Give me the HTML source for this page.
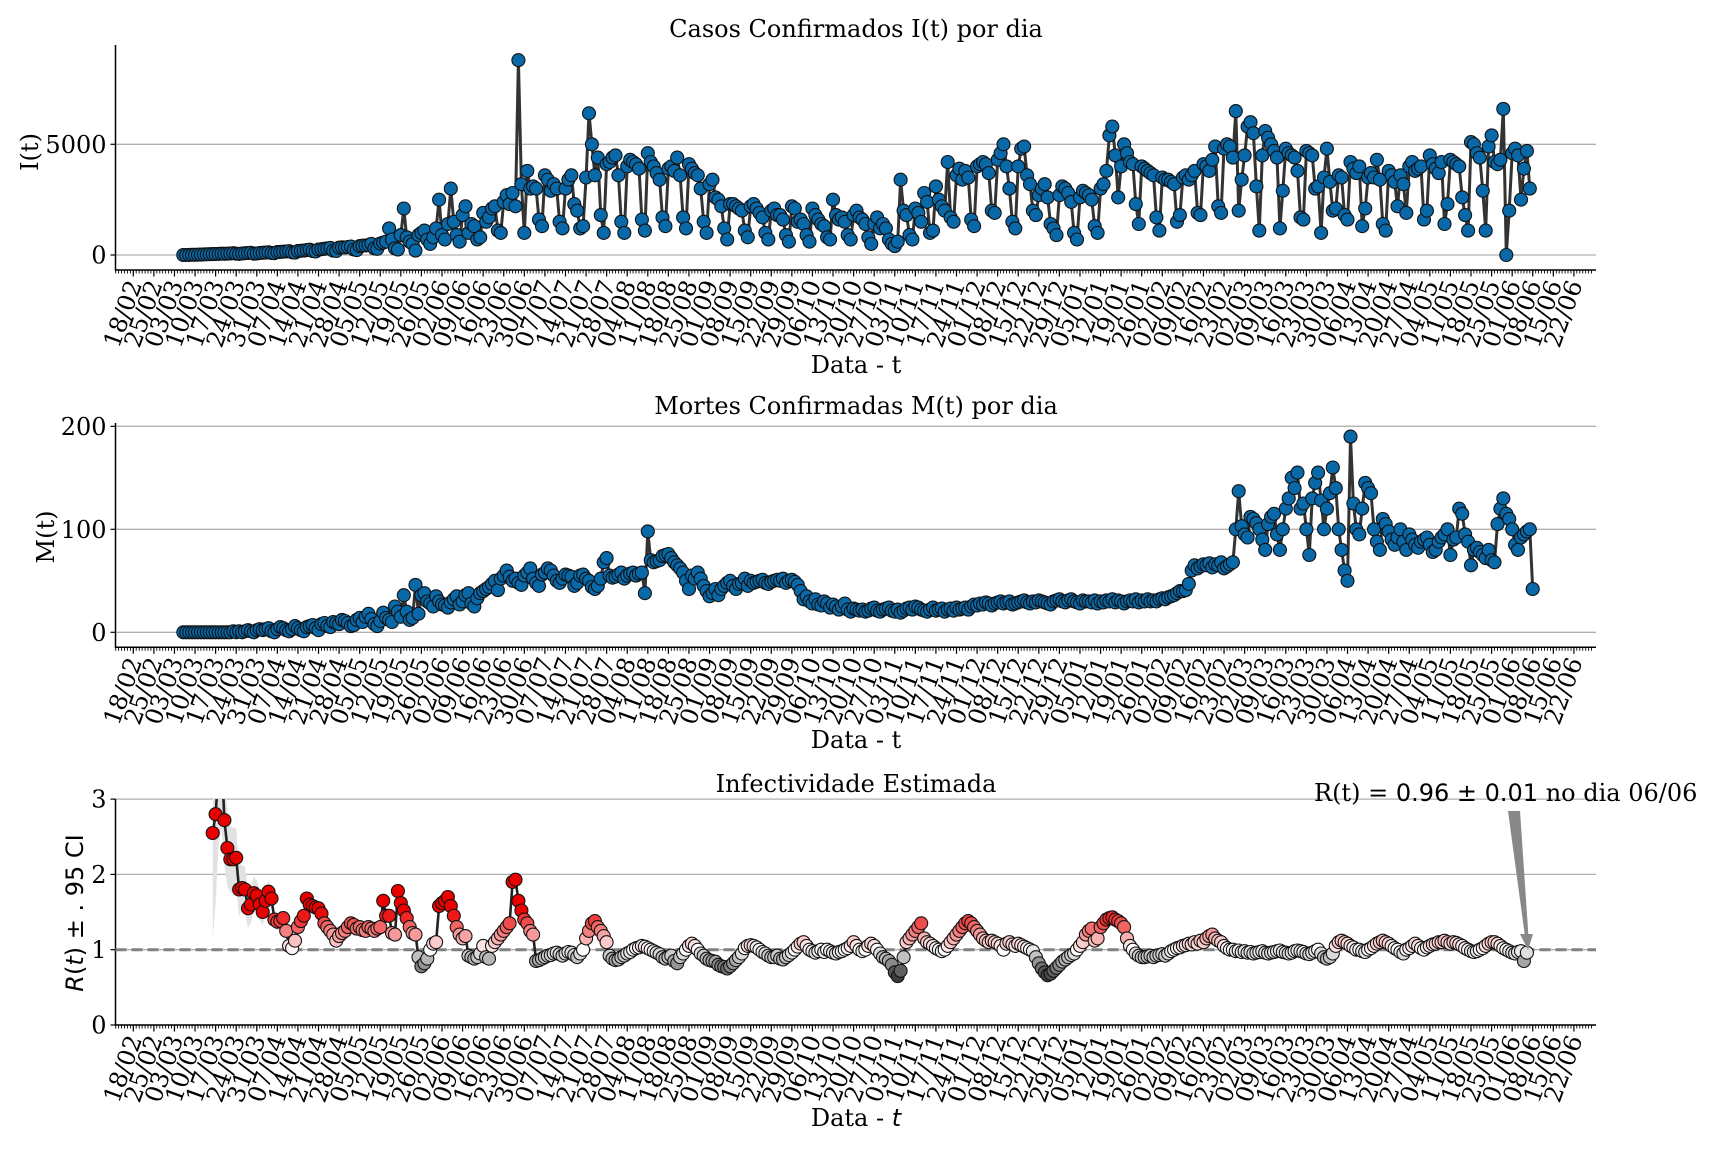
<!DOCTYPE html>
<html><head><meta charset="utf-8"><title>COVID charts</title>
<style>
html,body{margin:0;padding:0;background:#fff;}
svg{display:block;}
text{font-family:"DejaVu Serif","Liberation Serif",serif;fill:#000;}
.sans{font-family:"DejaVu Sans","Liberation Sans",sans-serif;}
</style></head>
<body>
<svg id="chart" width="1728" height="1152" viewBox="0 0 1728 1152" xmlns="http://www.w3.org/2000/svg">
<defs>
<clipPath id="clip3"><rect x="115.5" y="799" width="1481" height="226"/></clipPath>
</defs>
<rect x="0" y="0" width="1728" height="1152" fill="#fff"/>
<text x="856" y="37" font-size="24" text-anchor="middle">Casos Confirmados I(t) por dia</text>
<text x="856" y="414" font-size="24" text-anchor="middle">Mortes Confirmadas M(t) por dia</text>
<text x="856" y="792" font-size="24" text-anchor="middle">Infectividade Estimada</text>
<text x="856" y="373" font-size="24" text-anchor="middle">Data - t</text>
<text x="856" y="748" font-size="24" text-anchor="middle">Data - t</text>
<text x="856" y="1126" font-size="24" text-anchor="middle">Data - <tspan font-style="italic" class="sans">t</tspan></text>
<text transform="translate(38,152) rotate(-90)" font-size="24" text-anchor="middle">I(t)</text>
<text transform="translate(54,537) rotate(-90)" font-size="24" text-anchor="middle">M(t)</text>
<text transform="translate(83,913) rotate(-90)" font-size="24" text-anchor="middle" class="sans"><tspan font-style="italic">R</tspan>(<tspan font-style="italic">t</tspan>) ± . 95 CI</text>
<g id="layer"></g>
<text x="1314" y="801" font-size="24">R(t) = <tspan class="sans">0.96 ± 0.01</tspan> no dia 06/06</text>
<polygon points="1508,811 1520,811 1529,944 1526,944" fill="#888"/>
<polygon points="1520,934 1528,950 1533,934" fill="#888"/>
</svg>
<script>
const tickLabels=["18/02","25/02","03/03","10/03","17/03","24/03","31/03","07/04","14/04","21/04","28/04","05/05","12/05","19/05","26/05","02/06","09/06","16/06","23/06","30/06","07/07","14/07","21/07","28/07","04/08","11/08","18/08","25/08","01/09","08/09","15/09","22/09","29/09","06/10","13/10","20/10","27/10","03/11","10/11","17/11","24/11","01/12","08/12","15/12","22/12","29/12","05/01","12/01","19/01","26/01","02/02","09/02","16/02","23/02","02/03","09/03","16/03","23/03","30/03","06/04","13/04","20/04","27/04","04/05","11/05","18/05","25/05","01/06","08/06","15/06","22/06"];
const casesStart=17;
const cases=[1,2,5,8,10,15,20,25,30,35,40,45,50,60,55,60,70,80,60,50,70,80,90,100,60,70,90,100,110,120,90,80,130,140,150,160,170,120,110,180,190,200,220,240,180,160,250,260,280,300,320,200,180,330,350,340,360,380,250,220,400,420,430,450,500,300,280,520,560,600,
1200,700,300,250,900,2100,800,600,500,200,900,1000,1100,700,500,800,1200,2500,900,700,1400,3000,1500,900,600,1800,2200,1000,1400,1300,700,800,1900,1500,1700,2100,2200,1100,1000,2400,2700,2300,2800,2200,8800,3200,1000,3800,3000,
3100,3000,1600,1300,3600,3400,2900,3200,3000,1500,1200,3000,3400,3600,2300,2000,1200,1300,3500,6400,5000,3600,4400,1800,1000,4100,4200,4400,4500,3600,1500,1000,4000,4300,4200,4100,3900,1600,1100,4600,4200,4000,3700,3400,1700,1300,3900,4000,3800,4400,3600,1700,1200,4100,3900,3700,3600,3000,1500,1000,3200,3400,2600,
2500,2200,1200,700,2300,2300,2200,2100,2000,1100,800,2200,2300,2100,1900,1700,1000,700,2000,2100,1800,1800,1600,900,600,2200,2100,1500,1600,1400,900,600,2100,1800,1600,1400,1300,800,700,2500,1800,1600,1700,1500,900,700,1800,2000,1700,1600,1400,800,500,1400,1700,1200,1400,1200,700,500,400,600,3400,
2000,1800,900,700,2100,1900,1500,2800,2400,1000,1100,3100,2500,2200,2000,4200,1700,1500,3600,3900,3400,3800,3500,1600,1300,4000,4100,4200,4100,3700,2000,1900,4300,4600,5000,4000,3000,1500,1200,4000,4800,4900,3600,3200,2000,1800,2700,3000,3200,2600,1400,1200,900,2700,3100,3000,2800,2400,1000,700,2600,2900,2800,2700,2500,1300,1000,3000,3200,3800,
5400,5800,4500,2600,4000,5000,4600,4200,4100,2300,1400,4000,3900,3800,3700,3600,1700,1100,3500,3400,3400,3300,3200,1500,1800,3500,3600,3400,3600,3800,1900,1800,4100,4000,3800,4300,4900,2200,1900,4800,5000,4900,4400,6500,2000,3400,4500,5800,6000,5500,3100,1100,4500,5600,5300,5000,4700,4400,1200,2900,4800,4600,4500,4400,3800,1700,1600,4700,4600,4500,
3000,3100,1000,3500,4800,3300,2000,2100,3600,3500,1800,1600,4200,3900,3700,4000,1300,2100,3500,3700,3500,4300,3400,1400,1100,3800,3600,3300,2200,3600,3200,1900,4000,4200,3800,3900,4000,1600,2000,4500,4100,3900,3700,4200,1400,2300,4300,4200,4100,4000,2600,1800,1100,5100,5000,4600,4400,2900,1100,4900,5400,4200,4100,4300,6600,0,2000,4600,4800,4500,2500,3900,4700,3000];
const deathsStart=17;
const deaths=[0,0,0,0,0,0,0,0,0,0,0,0,0,0,0,0,0,1,0,1,0,1,2,1,0,2,3,2,3,4,1,0,3,5,4,2,1,3,6,4,2,1,5,6,7,4,2,8,9,6,5,10,9,8,12,11,9,6,7,12,14,10,15,18,13,8,6,11,19,14,
12,10,25,20,15,36,20,12,14,46,18,36,38,30,28,25,35,30,27,26,24,29,32,35,27,30,36,38,28,25,33,38,40,42,44,47,50,41,52,55,60,54,50,52,48,46,55,58,62,
52,48,45,56,58,62,60,55,50,48,52,56,55,54,45,48,55,56,52,50,44,42,45,52,68,72,55,53,54,56,58,52,55,57,58,55,57,58,38,98,70,68,69,70,74,75,76,72,68,65,62,58,50,42,55,52,
58,52,45,40,35,38,42,36,42,45,48,50,45,42,47,48,52,45,50,48,49,50,51,48,47,49,50,51,50,52,48,50,51,49,46,40,32,35,30,28,32,27,26,30,28,24,27,25,22,25,28,22,20,23,22,21,
22,20,21,23,24,21,20,22,23,24,21,20,22,19,21,23,24,22,25,24,22,21,20,22,24,21,22,23,20,22,23,21,24,22,23,24,22,25,27,26,28,27,29,28,26,28,29,30,28,
29,30,27,28,29,30,31,29,28,30,29,31,30,29,28,27,30,31,32,30,29,31,32,30,29,28,31,30,30,29,31,28,30,29,31,30,32,29,31,30,28,30,31,30,32,29,31,30,32,
30,31,30,32,33,32,34,35,36,38,40,40,41,47,60,65,62,64,66,65,67,63,66,65,68,62,64,66,68,100,137,103,95,92,112,110,106,100,90,80,105,112,115,95,80,100,120,130,150,
140,155,120,125,100,75,130,145,155,128,100,120,135,160,140,100,80,60,50,190,125,100,95,120,145,140,135,100,88,80,110,105,98,90,85,92,100,88,80,95,90,85,
82,88,90,92,85,78,80,88,92,95,100,75,90,92,120,115,95,88,65,80,82,78,75,72,80,70,68,105,120,130,115,110,100,85,80,92,95,98,100,42];
const rStart=27;
const rValues=[2.55,2.8,3.4,3.6,2.72,2.35,2.2,2.2,2.22,1.8,
1.82,1.8,1.55,1.6,1.75,1.72,1.6,1.5,1.65,1.77,
1.68,1.4,1.37,1.38,1.42,1.25,1.05,1.02,1.12,1.3,
1.38,1.45,1.68,1.6,1.58,1.56,1.55,1.48,1.35,1.3,
1.25,1.2,1.12,1.18,1.22,1.25,1.3,1.35,1.33,1.28,
1.3,1.26,1.25,1.3,1.28,1.25,1.28,1.3,1.65,1.45,
1.45,1.22,1.2,1.78,1.62,1.52,1.42,1.3,1.22,1.2,
0.9,0.78,0.82,0.88,1.0,1.08,1.1,1.58,1.62,1.65,
1.7,1.58,1.45,1.3,1.2,1.15,1.18,0.92,0.9,0.88,
0.9,0.95,1.05,0.9,0.88,1.05,1.1,1.15,1.2,1.25,
1.3,1.35,1.9,1.93,1.65,1.52,1.4,1.35,1.25,1.2,
0.85,0.86,0.88,0.9,0.92,0.93,0.95,0.96,0.94,0.92,
0.95,0.97,0.96,0.93,0.9,0.95,1.0,1.15,1.25,1.35,
1.38,1.3,1.25,1.18,1.1,0.92,0.88,0.86,0.87,0.9,
0.92,0.95,0.97,1.0,1.02,1.03,1.05,1.04,1.02,1.0,
0.98,0.96,0.94,0.9,0.88,0.9,0.92,0.85,0.82,0.9,
0.95,1.0,1.05,1.08,1.05,1.0,0.95,0.92,0.88,0.86,
0.85,0.84,0.8,0.78,0.77,0.75,0.78,0.82,0.86,0.9,
0.95,1.02,1.05,1.06,1.05,1.03,1.0,0.97,0.95,0.92,
0.9,0.9,0.92,0.88,0.87,0.9,0.93,0.96,1.0,1.04,
1.08,1.1,1.05,1.0,0.98,0.96,0.98,1.0,0.97,1.0,
0.98,0.96,0.95,0.97,0.98,1.0,1.02,1.05,1.1,1.05,
1.0,0.98,1.0,1.05,1.08,1.05,1.0,0.95,0.9,0.88,
0.85,0.8,0.7,0.65,0.72,0.9,1.1,1.15,1.2,1.25,
1.3,1.35,1.15,1.1,1.08,1.05,1.02,1.0,0.98,1.0,
1.05,1.1,1.15,1.2,1.25,1.3,1.35,1.38,1.35,1.3,
1.25,1.2,1.15,1.12,1.1,1.12,1.1,1.08,1.05,1.0,
1.08,1.1,1.07,1.05,1.08,1.06,1.04,1.02,1.0,0.98,
0.9,0.82,0.75,0.7,0.66,0.68,0.72,0.76,0.8,0.84,
0.87,0.9,0.93,0.95,1.0,1.05,1.1,1.2,1.25,1.28,
1.12,1.15,1.3,1.35,1.4,1.42,1.43,1.4,1.38,1.35,
1.3,1.15,1.05,1.0,0.95,0.92,0.9,0.9,0.91,0.92,
0.9,0.92,0.93,0.94,0.92,0.95,0.98,1.0,1.02,1.03,
1.05,1.06,1.08,1.07,1.1,1.08,1.12,1.1,1.15,1.18,
1.2,1.15,1.12,1.1,1.05,1.02,1.0,1.0,0.98,0.99,
0.97,0.98,0.96,0.97,0.95,0.96,0.97,0.98,0.96,0.95,
0.96,0.97,0.98,0.99,0.97,0.96,0.95,0.96,0.98,0.99,
0.98,0.97,0.95,0.94,0.96,0.98,1.0,0.95,0.9,0.88,
0.9,0.95,1.05,1.1,1.12,1.1,1.08,1.05,1.03,1.0,
1.0,0.98,0.97,1.0,1.02,1.05,1.08,1.1,1.12,1.1,
1.08,1.05,1.02,1.0,0.97,0.95,1.0,1.02,1.05,1.08,
1.05,1.02,1.0,1.03,1.05,1.07,1.08,1.1,1.1,1.12,
1.1,1.08,1.1,1.09,1.07,1.05,1.02,1.0,0.98,0.97,
0.98,1.0,1.02,1.05,1.08,1.1,1.1,1.08,1.05,1.02,
1.0,0.98,0.96,0.95,0.97,0.98,0.85,0.96];
const rCiHalf=[1.4,1.2,1.0,1.0,0.6,0.5,0.45,0.42,0.4,0.35,0.3,0.3,0.26,0.25,0.22,0.2,0.2,0.18,0.16,0.15,0.13,0.12,0.11,0.1,0.1,0.09,0.08,0.08,0.07,0.07];

const NS="http://www.w3.org/2000/svg";
const layer=document.getElementById('layer');
const X0=115.5, X1=1596;
function xDay(d){return 133.3+2.94*d;}
const panels=[
 {name:'cases',axisY:270,top:45,y:v=>255-v*110.7/5000,ticks:[0,5000],labels:['0','5000']},
 {name:'deaths',axisY:647.3,top:423,y:v=>632.3-v*1.03,ticks:[0,100,200],labels:['0','100','200']},
 {name:'r',axisY:1025,top:799,y:v=>1025-v*75.3,ticks:[0,1,2,3],labels:['0','1','2','3']}
];
function mk(tag,attrs,parent){const e=document.createElementNS(NS,tag);for(const k in attrs)e.setAttribute(k,attrs[k]);(parent||layer).appendChild(e);return e;}

panels.forEach(p=>{
  const g=mk('g',{});
  
  
  p.ticks.forEach((t,i)=>{
    const yy=p.y(t);
    const gl=mk('line',{x1:X0,x2:X1,y1:yy,y2:yy,stroke:'#b0b0b0','stroke-width':1.3},g);
    
    
    mk('line',{x1:X0-5,x2:X0,y1:yy,y2:yy,stroke:'#000','stroke-width':1.2},g);
    const tl=mk('text',{x:X0-9,y:yy+8.5,'font-size':24,'text-anchor':'end'},g);
    tl.textContent=p.labels[i];
    
    
  });
  let dpath='';
  for(let d=-6;d<=496;d++){const xx=xDay(d);if(xx<X0||xx>X1)continue;dpath+=`M${xx.toFixed(1)},${p.axisY}v3.5`;}
  mk('path',{d:dpath,stroke:'#000','stroke-width':0.9,fill:'none'},g);
  tickLabels.forEach((lab,i)=>{
    const xx=xDay(i*7);
    mk('line',{x1:xx,x2:xx,y1:p.axisY,y2:p.axisY+6.5,stroke:'#000','stroke-width':1.2},g);
    const t=mk('text',{transform:`translate(${(xx+9).toFixed(1)},${p.axisY+14}) rotate(-70)`,'font-size':24,'text-anchor':'end'},g);
    t.textContent=lab;
    
    
  });
  const sp=mk('path',{d:`M${X0},${p.top}V${p.axisY}H${X1}`,stroke:'#000','stroke-width':1.5,fill:'none'},g);
  
  
});

function drawSeries(p,start,vals,name){
  const pts=vals.map((v,i)=>[xDay(start+i),p.y(v)]);
  const ln=mk('polyline',{points:pts.map(q=>q[0].toFixed(1)+','+q[1].toFixed(1)).join(' '),fill:'none',stroke:'#333','stroke-width':3,'stroke-linejoin':'round'});
  
  
  pts.forEach((q,i)=>{
    const c=mk('circle',{cx:q[0].toFixed(1),cy:q[1].toFixed(1),r:6.5,fill:'#0868a8',stroke:'#111','stroke-width':1.1});
    
    
  });
}
drawSeries(panels[0],casesStart,cases,'cases');
drawSeries(panels[1],deathsStart,deaths,'deaths');

(function(){
  const p=panels[2];
  const cg=mk('g',{'clip-path':'url(#clip3)'});
  
  
  const up=[],lo=[];
  rValues.forEach((v,i)=>{const h=i<rCiHalf.length?rCiHalf[i]:0.04;up.push([xDay(rStart+i),p.y(v+h)]);lo.push([xDay(rStart+i),p.y(Math.max(0,v-h))]);});
  const band=mk('polygon',{points:up.concat(lo.reverse()).map(q=>q[0].toFixed(1)+','+q[1].toFixed(1)).join(' '),fill:'#e2e2e2',stroke:'none'},cg);
  
  
  const dl=mk('line',{x1:X0,x2:X1,y1:p.y(1),y2:p.y(1),stroke:'#808080','stroke-width':3,'stroke-dasharray':'11,5'},cg);
  
  
  const pts=rValues.map((v,i)=>[xDay(rStart+i),p.y(v)]);
  const ln=mk('polyline',{points:pts.map(q=>q[0].toFixed(1)+','+q[1].toFixed(1)).join(' '),fill:'none',stroke:'#222','stroke-width':2.6},cg);
  
  
  function col(v){
    let r,g,b;
    if(v>=1){const t=Math.min((v-1)/0.5,1);r=255-20*t;g=255-255*t;b=255-255*t;}
    else{const t=Math.min((1-v)/0.35,1);r=g=b=245-185*t;}
    return `rgb(${r|0},${g|0},${b|0})`;
  }
  pts.forEach((q,i)=>{
    const c=mk('circle',{cx:q[0].toFixed(1),cy:q[1].toFixed(1),r:6.5,fill:col(rValues[i]),stroke:'#111','stroke-width':1.1},cg);
    
    
  });
})();
</script>
</body></html>
